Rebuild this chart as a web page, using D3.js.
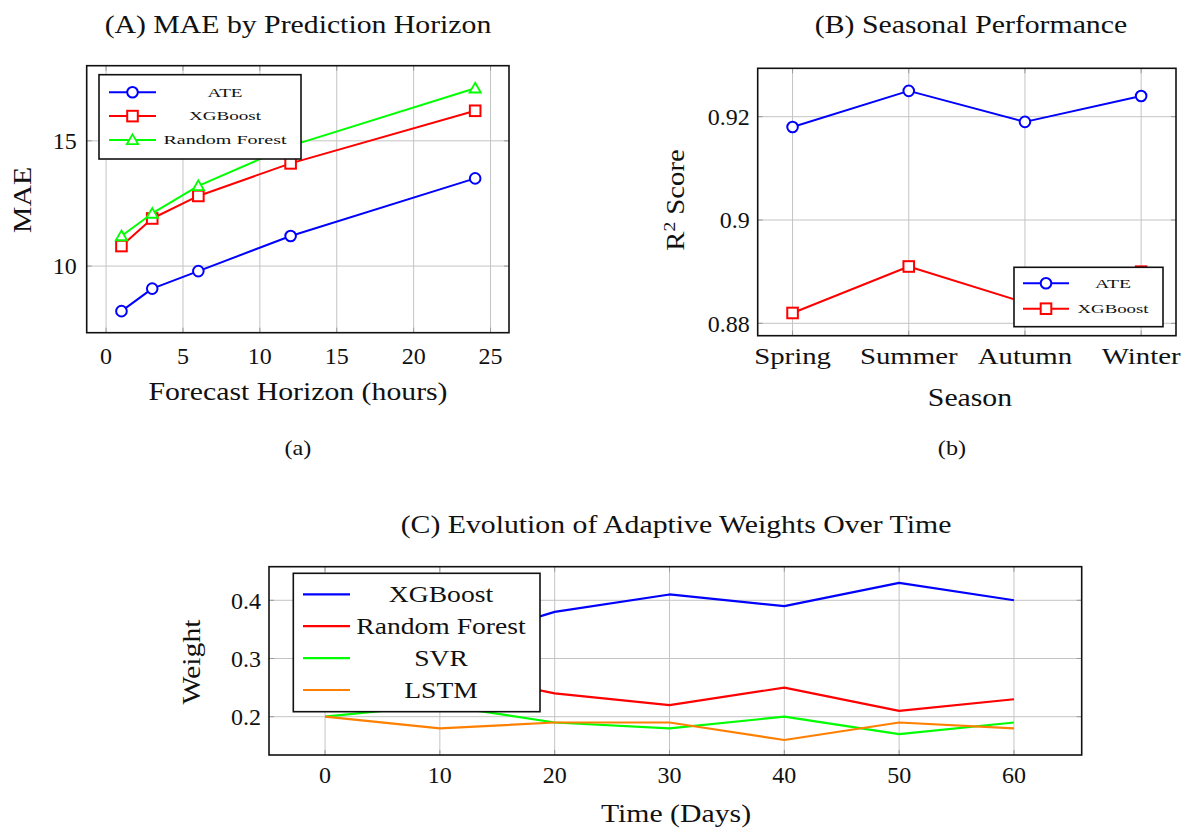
<!DOCTYPE html>
<html>
<head>
<meta charset="utf-8">
<script src="https://cdn.jsdelivr.net/npm/d3@7"></script>
<style>
  html, body { margin: 0; padding: 0; background: #fff; }
  svg { display: block; }
  text { font-family: "Liberation Serif", "DejaVu Serif", serif; fill: #111; }
</style>
</head>
<body>
<svg id="chart" width="1189" height="829"></svg>
<script>
// ---------------- DATA ----------------
// Panel A: MAE by prediction horizon
const horizons = [1, 3, 6, 12, 24];
const maeATE = [8.2, 9.1, 9.8, 11.2, 13.5];
const maeXGB = [10.8, 11.9, 12.8, 14.1, 16.2];
const maeRF  = [11.2, 12.1, 13.2, 14.8, 17.1];
const horizonTicks = [0, 5, 10, 15, 20, 25];
const maeTicks = [10, 15];

// Panel B: seasonal R2
const seasons = ["Spring", "Summer", "Autumn", "Winter"];
const r2ATE = [0.918, 0.925, 0.919, 0.924];
const r2XGB = [0.882, 0.891, 0.884, 0.890];
const r2Ticks = [0.88, 0.9, 0.92];

// Panel C: adaptive weights
const days = [0, 10, 20, 30, 40, 50, 60];
const wXGB  = [0.30, 0.32, 0.38, 0.41, 0.39, 0.43, 0.40];
const wRF   = [0.30, 0.28, 0.24, 0.22, 0.25, 0.21, 0.23];
const wSVR  = [0.20, 0.22, 0.19, 0.18, 0.20, 0.17, 0.19];
const wLSTM = [0.20, 0.18, 0.19, 0.19, 0.16, 0.19, 0.18];
const dayTicks = [0, 10, 20, 30, 40, 50, 60];
const weightTicks = [0.2, 0.3, 0.4];

// ---------------- HELPERS ----------------
const svg = d3.select("#chart");
const BLUE = "#0000ff", RED = "#ff0000", GREEN = "#00ff00", ORANGE = "#ff8000";
const GRID = "#c4c4c4";
const WIDEN = 1.19; // Computer-Modern-like width

function widen(sel, factor) {
  sel.each(function () {
    const w = this.getComputedTextLength();
    d3.select(this).attr("textLength", w * factor).attr("lengthAdjust", "spacingAndGlyphs");
  });
  return sel;
}

function frame(g, x, y, xt, yt, opts) {
  const [x0, x1] = x.range();
  const [y0, y1] = y.range(); // y0 bottom, y1 top
  g.append("g").selectAll("line").data(xt).join("line")
    .attr("x1", d => x(d)).attr("x2", d => x(d)).attr("y1", y0).attr("y2", y1)
    .attr("stroke", GRID).attr("stroke-width", 1);
  g.append("g").selectAll("line").data(yt).join("line")
    .attr("x1", x0).attr("x2", x1).attr("y1", d => y(d)).attr("y2", d => y(d))
    .attr("stroke", GRID).attr("stroke-width", 1);
  const tk = g.append("g").attr("stroke", "#9a9a9a").attr("stroke-width", 1);
  xt.forEach(d => {
    tk.append("line").attr("x1", x(d)).attr("x2", x(d)).attr("y1", y0).attr("y2", y0 - 5);
    tk.append("line").attr("x1", x(d)).attr("x2", x(d)).attr("y1", y1).attr("y2", y1 + 5);
  });
  yt.forEach(d => {
    tk.append("line").attr("y1", y(d)).attr("y2", y(d)).attr("x1", x0).attr("x2", x0 + 5);
    tk.append("line").attr("y1", y(d)).attr("y2", y(d)).attr("x1", x1).attr("x2", x1 - 5);
  });
  const xl = g.append("g").selectAll("text").data(xt).join("text")
    .attr("x", d => x(d)).attr("y", y0 + opts.xLabDy)
    .attr("text-anchor", "middle").attr("font-size", opts.fs)
    .text(d => opts.xFmt ? opts.xFmt(d) : d);
  if (opts.widenX) widen(xl, opts.widenX);
  g.append("g").selectAll("text").data(yt).join("text")
    .attr("x", x0 - opts.yLabDx).attr("y", d => y(d)).attr("dy", "0.35em")
    .attr("text-anchor", "end").attr("font-size", opts.fs)
    .text(d => opts.yFmt ? opts.yFmt(d) : d);
}
function border(g, x, y) {
  const [x0, x1] = x.range();
  const [y0, y1] = y.range();
  g.append("rect").attr("x", x0).attr("y", y1).attr("width", x1 - x0).attr("height", y0 - y1)
    .attr("fill", "none").attr("stroke", "#111").attr("stroke-width", 1.6);
}
function marker(g, type, cx, cy, color) {
  if (type === "circle") {
    g.append("circle").attr("cx", cx).attr("cy", cy).attr("r", 5.3)
      .attr("fill", "#fff").attr("stroke", color).attr("stroke-width", 2);
  } else if (type === "square") {
    g.append("rect").attr("x", cx - 5.3).attr("y", cy - 5.3).attr("width", 10.6).attr("height", 10.6)
      .attr("fill", "#fff").attr("stroke", color).attr("stroke-width", 2);
  } else if (type === "triangle") {
    const s = d3.symbol().type(d3.symbolTriangle).size(55);
    g.append("path").attr("d", s()).attr("transform", `translate(${cx},${cy + 1})`)
      .attr("fill", "#fff").attr("stroke", color).attr("stroke-width", 1.8);
  }
}
function series(g, xs, ys, x, y, color, mk, width) {
  const line = d3.line().x((d, i) => x(xs[i])).y(d => y(d));
  g.append("path").datum(ys).attr("d", line).attr("fill", "none")
    .attr("stroke", color).attr("stroke-width", width || 2).attr("stroke-linejoin", "round");
  if (mk) ys.forEach((v, i) => marker(g, mk, x(xs[i]), y(v), color));
}
function text(t, x, y, fs, anchor, rot, factor) {
  const el = svg.append("text").attr("font-size", fs).attr("text-anchor", anchor || "middle");
  if (rot) el.attr("transform", `translate(${x},${y}) rotate(-90)`);
  else el.attr("x", x).attr("y", y);
  el.text(t);
  widen(el, factor || WIDEN);
  return el;
}
function legendText(g, t, x, y, fs, targetW) {
  return g.append("text").attr("x", x).attr("y", y).attr("dy", "0.32em").attr("text-anchor", "middle")
    .attr("font-size", fs).attr("textLength", targetW).attr("lengthAdjust", "spacingAndGlyphs").text(t);
}

// ---------------- PANEL A ----------------
{
  const x = d3.scaleLinear().domain([-1.26, 26.2]).range([86.7, 509]);
  const y = d3.scaleLinear().domain([7.34, 18.0]).range([332.7, 65.7]);
  const g = svg.append("g");
  frame(g, x, y, horizonTicks, maeTicks, { fs: 24, xLabDy: 31, yLabDx: 10 });
  series(g, horizons, maeATE, x, y, BLUE, "circle");
  series(g, horizons, maeXGB, x, y, RED, "square");
  series(g, horizons, maeRF, x, y, GREEN, "triangle");
  const lg = g.append("g");
  lg.append("rect").attr("x", 99).attr("y", 74.7).attr("width", 202).attr("height", 84.3)
    .attr("fill", "#fff").attr("stroke", "#111").attr("stroke-width", 1.6);
  const items = [["ATE", BLUE, "circle", 35], ["XGBoost", RED, "square", 72], ["Random Forest", GREEN, "triangle", 123]];
  items.forEach((it, i) => {
    const yy = 92.3 + i * 23.8;
    lg.append("line").attr("x1", 109).attr("x2", 156).attr("y1", yy).attr("y2", yy)
      .attr("stroke", it[1]).attr("stroke-width", 2);
    marker(lg, it[2], 132.5, yy, it[1]);
    legendText(lg, it[0], 225, yy, 13.5, it[3]);
  });
  border(g, x, y);
  text("(A) MAE by Prediction Horizon", 298, 33, 25);
  text("Forecast Horizon (hours)", 298, 400, 25);
  text("MAE", 31, 200, 25, "middle", true);
  text("(a)", 298, 455, 22, "middle", false, 1.1);
}

// ---------------- PANEL B ----------------
{
  const x = d3.scalePoint().domain(seasons).range([757.7, 1176]).padding(0.3);
  const y = d3.scaleLinear().domain([0.8776, 0.92937]).range([335.7, 68.3]);
  const g = svg.append("g");
  frame(g, x, y, seasons, r2Ticks, { fs: 24, xLabDy: 28, yLabDx: 8, widenX: 1.2,
    yFmt: d => d === 0.9 ? "0.9" : d3.format(".2f")(d) });
  series(g, seasons, r2ATE, x, y, BLUE, "circle");
  series(g, seasons, r2XGB, x, y, RED, "square");
  const lg = g.append("g");
  lg.append("rect").attr("x", 1014).attr("y", 267.3).attr("width", 149).attr("height", 59.4)
    .attr("fill", "#fff").attr("stroke", "#111").attr("stroke-width", 1.6);
  const items = [["ATE", BLUE, "circle", 36], ["XGBoost", RED, "square", 71]];
  items.forEach((it, i) => {
    const yy = 283.3 + i * 25.4;
    lg.append("line").attr("x1", 1023).attr("x2", 1069).attr("y1", yy).attr("y2", yy)
      .attr("stroke", it[1]).attr("stroke-width", 2);
    marker(lg, it[2], 1046, yy, it[1]);
    legendText(lg, it[0], 1113, yy, 13.5, it[3]);
  });
  border(g, x, y);
  text("(B) Seasonal Performance", 971, 33, 25);
  text("Season", 970, 406, 25);
  const r = svg.append("text").attr("font-size", 25).attr("text-anchor", "middle")
    .attr("transform", "translate(684,200) rotate(-90)");
  r.append("tspan").text("R");
  r.append("tspan").attr("font-size", 17).attr("dy", -9).text("2");
  r.append("tspan").attr("dy", 9).text(" Score");
  widen(r, 1.15);
  text("(b)", 952, 455, 22, "middle", false, 1.1);
}

// ---------------- PANEL C ----------------
{
  const x = d3.scaleLinear().domain([-4.88, 65.9]).range([269, 1081.7]);
  const y = d3.scaleLinear().domain([0.1342, 0.4577]).range([755, 566.7]);
  const g = svg.append("g");
  frame(g, x, y, dayTicks, weightTicks, { fs: 24, xLabDy: 28, yLabDx: 8, yFmt: d3.format(".1f") });
  series(g, days, wXGB, x, y, BLUE, null, 2.2);
  series(g, days, wRF, x, y, RED, null, 2.2);
  series(g, days, wSVR, x, y, GREEN, null, 2.2);
  series(g, days, wLSTM, x, y, ORANGE, null, 2.2);
  const lg = g.append("g");
  lg.append("rect").attr("x", 293.3).attr("y", 573.3).attr("width", 246.7).attr("height", 138.4)
    .attr("fill", "#fff").attr("stroke", "#111").attr("stroke-width", 1.6);
  const items = [["XGBoost", BLUE], ["Random Forest", RED], ["SVR", GREEN], ["LSTM", ORANGE]];
  items.forEach((it, i) => {
    const yy = 594.3 + i * 31.9;
    lg.append("line").attr("x1", 303).attr("x2", 350).attr("y1", yy).attr("y2", yy)
      .attr("stroke", it[1]).attr("stroke-width", 2.2);
    const t = lg.append("text").attr("x", 441).attr("y", yy).attr("dy", "0.33em").attr("text-anchor", "middle")
      .attr("font-size", 23).text(it[0]);
    widen(t, 1.2);
  });
  border(g, x, y);
  text("(C) Evolution of Adaptive Weights Over Time", 676, 533, 25);
  text("Time (Days)", 676, 822, 25);
  text("Weight", 200, 662, 25, "middle", true);
}
</script>
</body>
</html>
